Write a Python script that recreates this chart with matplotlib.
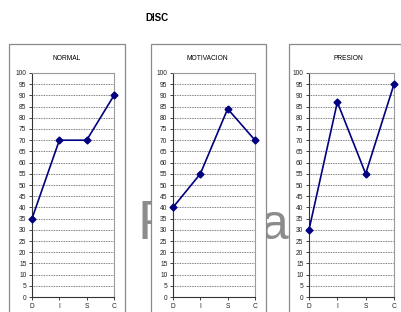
import matplotlib.pyplot as plt
from matplotlib.patches import Rectangle

# data
categories = ["D", "I", "S", "C"]
titles = ["NORMAL", "MOTIVACION", "PRESION"]
normal = [35, 70, 70, 90]
motivacion = [40, 55, 84, 70]
presion = [30, 87, 55, 95]
series = [normal, motivacion, presion]

W, H = 401, 312
plt.rcParams['font.family'] = ['Liberation Sans', 'DejaVu Sans']
fig = plt.figure(figsize=(W / 100, H / 100), dpi=100)

# watermark ("Página 1") mostly hidden behind the panels
fig.text(137 / W, 1 - 239 / H, "P", fontsize=40, color="#8c8c8c",
         ha="left", va="baseline", zorder=0.5)
fig.text(289 / W, 1 - 239 / H, "na", fontsize=36, color="#8c8c8c",
         ha="right", va="baseline", zorder=0.5, fontstretch="condensed")

# panel boxes (x0, x1 in pixels), plot areas and title centres
panels = [(9, 125), (151, 266), (289, 420)]
axes_px = [(32, 114), (173, 255), (309, 394)]
title_x = [67, 207, 348]
top_px = 44

for (p0, p1), (a0, a1), tx, title, vals in zip(panels, axes_px, title_x, titles, series):
    fig.add_artist(Rectangle((p0 / W, -0.1), (p1 - p0) / W, 1 - top_px / H + 0.1,
                             transform=fig.transFigure, facecolor="white",
                             edgecolor="#8a8a8a", lw=0.9, zorder=1))
    fig.text(tx / W, 1 - 59 / H, title, fontsize=4.8, ha="center", va="center", zorder=3)
    ax = fig.add_axes([a0 / W, 15 / H, (a1 - a0) / W, 224 / H], zorder=2)
    ax.plot(range(len(categories)), vals, color="#000080", lw=1.2,
            marker="D", markersize=3.5, clip_on=False, zorder=3)
    ax.set_xlim(0, 3)
    ax.set_ylim(0, 100)
    ax.set_yticks(range(0, 101, 5))
    ax.set_xticks(range(len(categories)))
    ax.set_xticklabels(categories)
    ax.tick_params(labelsize=4.8, length=2, width=0.6, pad=2, colors="#222222")
    ax.yaxis.grid(True, color="#555555", linestyle=(0, (1, 1)), lw=0.6)
    for s in ["left", "bottom"]:
        ax.spines[s].set_color("#333333")
        ax.spines[s].set_linewidth(0.8)
    for s in ["top", "right"]:
        ax.spines[s].set_color("#9a9a9a")
        ax.spines[s].set_linewidth(0.8)

fig.text(157 / W, 1 - 18 / H, "DISC", fontsize=7, fontweight="bold",
         ha="center", va="center")

fig.savefig("out.png", dpi=100)
